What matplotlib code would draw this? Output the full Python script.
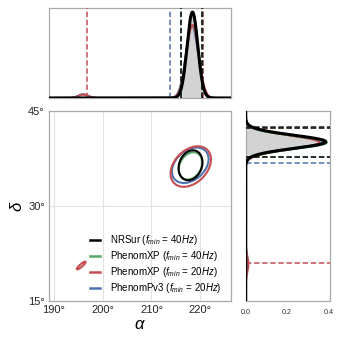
import numpy as np
import matplotlib
matplotlib.use("Agg")
import matplotlib.pyplot as plt

plt.rcParams['font.family'] = ['Liberation Sans', 'DejaVu Sans']
plt.rcParams['mathtext.fontset'] = 'custom'
plt.rcParams['mathtext.rm'] = 'Liberation Sans'
plt.rcParams['mathtext.it'] = 'Liberation Sans:italic'

# ---- data ----
labels = ['PhenomPv3 ($f_{min}$ = 20$Hz$)', 'PhenomXP ($f_{min}$ = 20$Hz$)',
          'PhenomXP ($f_{min}$ = 40$Hz$)', 'NRSur ($f_{min}$ = 40$Hz$)']
colors = ['#4c72b0', '#c44e52', '#55a868', '#000000']

# 2D posterior (Gaussian mixture parameters): main mode and secondary mode
mu_a = [217.95, 218.05, 218.0, 218.0]
mu_d = [36.4, 36.2, 36.3, 36.4]
sig_a = [1.75, 1.93, 1.12, 1.14]
sig_d = [1.30, 1.49, 1.00, 1.10]
rho = [0.35, 0.35, 0.25, 0.2]
mu2_a = [195.6, 195.6, 195.6, 195.6]
mu2_d = [20.6, 20.6, 20.6, 20.6]
sig2_a = [0.4, 0.4, 0.4, 0.4]
sig2_d = [0.27, 0.27, 0.27, 0.27]
rho2 = [0.9, 0.9, 0.9, 0.9]
w2 = [0.0, 0.022, 0.0, 0.0]

# 1D marginal alpha
ma_mu = [218.3, 218.4, 218.4, 218.4]
ma_sig = [1.25, 1.25, 1.1, 1.1]
ma_mu2 = [196.0, 196.0, 196.0, 196.0]
ma_sig2 = [1.0, 1.0, 1.0, 1.0]
ma_w2 = [0.04, 0.035, 0.0, 0.0]
ma_lo = [213.8, 196.8, 216.0, 216.0]
ma_hi = [220.6, 220.6, 220.3, 220.3]

# 1D marginal delta
md_mu = [40.1, 40.0, 40.0, 40.1]
md_sig = [1.046, 1.08, 1.02, 1.033]
md_mu2 = [21.0, 20.8, 21.0, 21.0]
md_sig2 = [1.2, 1.2, 1.2, 1.2]
md_w2 = [0.03, 0.04, 0.0, 0.0]
md_lo = [36.7, 21.0, 37.7, 37.7]
md_hi = [42.2, 42.3, 42.3, 42.4]

xlim = (189.0, 226.3)
ylim = (15.0, 45.0)


def gauss2(X, Y, mx, my, sx, sy, r):
    dx = (X - mx) / sx
    dy = (Y - my) / sy
    q = (dx**2 - 2 * r * dx * dy + dy**2) / (1 - r**2)
    return np.exp(-0.5 * q) / (2 * np.pi * sx * sy * np.sqrt(1 - r**2))


def gauss1(x, m, s):
    return np.exp(-0.5 * ((x - m) / s) ** 2) / (s * np.sqrt(2 * np.pi))


fig = plt.figure(figsize=(3.43, 3.43), dpi=100)
ax = fig.add_axes([0.1429, 0.1224, 0.5306, 0.5548])
axt = fig.add_axes([0.1429, 0.7143, 0.5306, 0.2624])
axr = fig.add_axes([0.7163, 0.1224, 0.2449, 0.5548])

spine_c = '#aaaaaa'
for a in (ax, axt, axr):
    for s in a.spines.values():
        s.set_color(spine_c)
        s.set_linewidth(0.9)

# main contours
ga = np.linspace(xlim[0], xlim[1], 800)
gd = np.linspace(ylim[0], ylim[1], 700)
X, Y = np.meshgrid(ga, gd)
handles = []
for i in range(4):
    Z = (1 - w2[i]) * gauss2(X, Y, mu_a[i], mu_d[i], sig_a[i], sig_d[i], rho[i])
    if w2[i] > 0:
        Z = Z + w2[i] * gauss2(X, Y, mu2_a[i], mu2_d[i], sig2_a[i], sig2_d[i], rho2[i])
    flat = np.sort(Z.ravel())[::-1]
    cum = np.cumsum(flat)
    cum /= cum[-1]
    lev = flat[np.searchsorted(cum, 0.9)]
    ax.contour(X, Y, Z, levels=[lev], colors=[colors[i]], linewidths=1.5, zorder=3 + i)

ax.set_xlim(xlim)
ax.set_ylim(ylim)
ax.set_xticks([190, 200, 210, 220])
ax.set_xticklabels(['190°', '200°', '210°', '220°'])
ax.set_yticks([15, 30, 45])
ax.set_yticklabels(['15°', '30°', '45°'])
ax.grid(True, color='#e3e3e3', linewidth=0.8)
ax.set_axisbelow(True)
ax.tick_params(length=0, labelsize=8, pad=3, colors='#262626')
ax.set_xlabel(r'$\alpha$', fontsize=12, labelpad=1)
ax.set_ylabel(r'$\delta$', fontsize=12, labelpad=2)

order = [3, 2, 1, 0]
for i in order:
    handles.append(ax.plot([], [], color=colors[i], lw=1.8, label=labels[i])[0])
leg = ax.legend(handles=handles, loc='lower right', frameon=False, fontsize=7,
                handlelength=1.0, handletextpad=1.0, labelspacing=0.2,
                borderaxespad=0.2, bbox_to_anchor=(0.98, 0.0))

# top marginal
xa = np.linspace(xlim[0], xlim[1], 1000)
for i in range(4):
    pa = (1 - ma_w2[i]) * gauss1(xa, ma_mu[i], ma_sig[i]) + ma_w2[i] * gauss1(xa, ma_mu2[i], ma_sig2[i])
    lw = 2.2 if i == 3 else 1.5
    axt.plot(xa, pa, color=colors[i], lw=lw, zorder=3 + i)
    if i == 3:
        m = (xa >= ma_lo[i]) & (xa <= ma_hi[i])
        axt.fill_between(xa[m], 0, pa[m], color='#d3d3d3', zorder=1)
for i in range(4):
    c = '#1a2a1a' if i >= 2 else colors[i]
    for v in (ma_lo[i], ma_hi[i]):
        axt.axvline(v, color=c, lw=1.1, ls=(0, (3.5, 1.8)), zorder=2 + i)
axt.set_xlim(xlim)
axt.set_ylim(0, 0.38)
axt.set_xticks([])
axt.set_yticks([])

# right marginal
yd = np.linspace(ylim[0], ylim[1], 1000)
for i in range(4):
    pd_ = (1 - md_w2[i]) * gauss1(yd, md_mu[i], md_sig[i]) + md_w2[i] * gauss1(yd, md_mu2[i], md_sig2[i])
    lw = 2.2 if i == 3 else 1.5
    axr.plot(pd_, yd, color=colors[i], lw=lw, zorder=3 + i)
    if i == 3:
        m = (yd >= md_lo[i]) & (yd <= md_hi[i])
        axr.fill_betweenx(yd[m], 0, pd_[m], color='#d3d3d3', zorder=1)
for i in range(4):
    c = '#1a2a1a' if i >= 2 else colors[i]
    for v in (md_lo[i], md_hi[i]):
        axr.axhline(v, color=c, lw=1.1, ls=(0, (3.5, 1.8)), zorder=2 + i)
axr.set_ylim(ylim)
axr.set_xlim(0, 0.405)
axr.set_yticks([])
axr.set_xticks([0.0, 0.2, 0.4])
axr.set_xticklabels(['0.0', '0.2', '0.4'])
axr.tick_params(length=0, labelsize=5.2, pad=6, colors='#333333')

fig.savefig('out.png', dpi=100)
